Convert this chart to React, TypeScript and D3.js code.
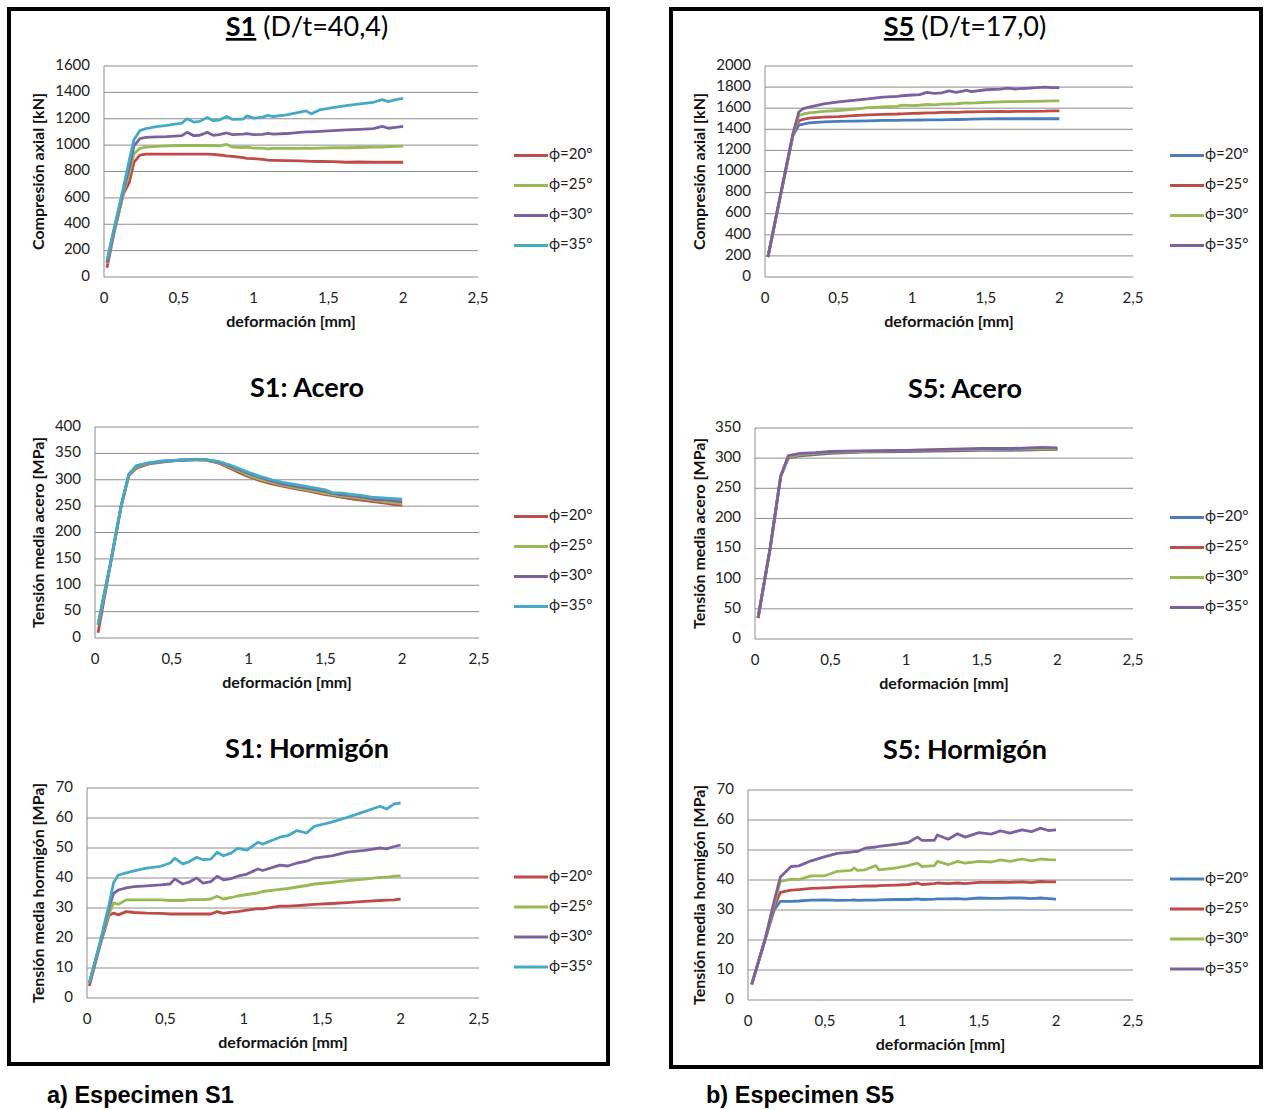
import React from 'react';
import * as d3 from 'd3';

// colores de Excel
const RED = '#BE4B48';
const GREEN = '#98B954';
const PURPLE = '#7D60A0';
const CYAN = '#46AAC5';
const BLUE = '#4A7EBB';

const X_TICKS = [0, 0.5, 1, 1.5, 2, 2.5];
const LEGEND_S = ['ϕ=20°', 'ϕ=25°', 'ϕ=30°', 'ϕ=35°'];

// S1 - compresion axial [kN]
const S1_COMP_X = [0.02, 0.07, 0.13, 0.17, 0.2, 0.24, 0.28, 0.35, 0.42, 0.52, 0.555, 0.6, 0.64, 0.69, 0.73, 0.77, 0.82, 0.86, 0.93, 0.955, 1.0, 1.06, 1.095, 1.13, 1.22, 1.31, 1.35, 1.385, 1.44, 1.53, 1.62, 1.71, 1.8, 1.86, 1.9, 1.95, 2.0];
const S1_COMP_20 = [70, 350, 630, 720, 870, 925, 932, 932, 932, 932, 932, 932, 932, 932, 930, 925, 918, 915, 905, 900, 898, 892, 886, 885, 882, 880, 878, 877, 876, 875, 870, 872, 870, 870, 870, 870, 870];
const S1_COMP_25 = [100, 360, 640, 790, 935, 975, 985, 990, 995, 997, 997, 997, 997, 997, 997, 995, 1005, 985, 982, 985, 978, 978, 972, 975, 975, 975, 978, 975, 978, 980, 980, 982, 985, 985, 988, 990, 992];
const S1_COMP_30 = [110, 370, 660, 835, 995, 1050, 1058, 1062, 1065, 1072, 1097, 1072, 1075, 1097, 1075, 1080, 1092, 1080, 1083, 1088, 1080, 1082, 1090, 1083, 1088, 1097, 1100, 1100, 1105, 1110, 1115, 1120, 1125, 1142, 1128, 1135, 1142];
const S1_COMP_35 = [130, 380, 680, 890, 1040, 1110, 1125, 1140, 1150, 1167, 1200, 1175, 1180, 1210, 1185, 1190, 1217, 1195, 1198, 1222, 1205, 1212, 1225, 1217, 1230, 1250, 1260, 1237, 1267, 1285, 1300, 1312, 1325, 1345, 1330, 1345, 1355];

// S5 - compresion axial [kN]
const S5_COMP_X = [0.02, 0.1, 0.19, 0.23, 0.26, 0.3, 0.4, 0.5, 0.6, 0.7, 0.8, 0.9, 0.93, 1.0, 1.05, 1.1, 1.15, 1.2, 1.25, 1.3, 1.37, 1.4, 1.5, 1.6, 1.65, 1.7, 1.8, 1.9, 1.95, 2.0];
const S5_COMP_20 = [190, 740, 1340, 1440, 1450, 1460, 1470, 1475, 1478, 1480, 1485, 1485, 1487, 1487, 1488, 1490, 1490, 1490, 1492, 1493, 1495, 1497, 1498, 1500, 1500, 1500, 1500, 1500, 1500, 1500];
const S5_COMP_25 = [190, 740, 1350, 1480, 1495, 1505, 1515, 1520, 1530, 1537, 1542, 1545, 1547, 1550, 1552, 1555, 1555, 1560, 1562, 1560, 1565, 1565, 1567, 1570, 1568, 1570, 1570, 1572, 1575, 1575];
const S5_COMP_30 = [190, 740, 1350, 1530, 1545, 1555, 1570, 1578, 1590, 1605, 1612, 1618, 1630, 1625, 1628, 1635, 1632, 1638, 1640, 1642, 1650, 1648, 1655, 1660, 1662, 1662, 1665, 1668, 1670, 1670];
const S5_COMP_35 = [190, 740, 1360, 1565, 1595, 1610, 1640, 1660, 1675, 1688, 1705, 1712, 1718, 1725, 1728, 1750, 1740, 1745, 1765, 1750, 1770, 1758, 1775, 1780, 1790, 1782, 1790, 1800, 1795, 1795];

// S1 - acero [MPa]
const S1_ACE_X = [0.02, 0.1, 0.17, 0.22, 0.27, 0.35, 0.45, 0.55, 0.65, 0.72, 0.8, 0.88, 0.95, 1.0, 1.08, 1.15, 1.22, 1.3, 1.4, 1.5, 1.55, 1.6, 1.67, 1.72, 1.8, 1.85, 1.9, 1.95, 2.0];
const S1_ACE_20 = [10, 140, 250, 308, 322, 330, 334, 337, 338, 337, 332, 322, 312, 306, 298, 292, 288, 283, 278, 272, 270, 267, 264, 262, 259, 257, 255, 253, 252];
const S1_ACE_25 = [25, 140, 250, 308, 324, 331, 335, 337, 338, 337, 333, 324, 315, 308, 300, 295, 290, 285, 280, 274, 272, 269, 267, 265, 262, 260, 258, 256, 255];
const S1_ACE_30 = [25, 140, 250, 310, 326, 332, 335, 337, 338, 338, 334, 326, 318, 312, 304, 298, 292, 288, 283, 278, 274, 272, 270, 268, 264, 262, 262, 260, 258];
const S1_ACE_35 = [25, 140, 250, 310, 327, 332, 336, 337, 338, 338, 335, 328, 320, 314, 306, 300, 295, 291, 286, 281, 275, 275, 272, 271, 267, 266, 265, 264, 263];

// S5 - acero [MPa]
const S5_ACE_X = [0.02, 0.1, 0.17, 0.22, 0.3, 0.4, 0.5, 0.7, 1.0, 1.3, 1.5, 1.7, 1.9, 2.0];
const S5_ACE_20 = [35, 150, 270, 300, 304, 306, 308, 310, 311, 312, 313, 313, 314, 314];
const S5_ACE_25 = [35, 150, 270, 301, 305, 307, 309, 311, 312, 313, 314, 315, 315, 315];
const S5_ACE_30 = [35, 150, 270, 302, 306, 308, 310, 311, 313, 314, 314, 315, 316, 315];
const S5_ACE_35 = [35, 150, 270, 304, 308, 309, 311, 312, 313, 315, 316, 316, 318, 317];

// S1 - hormigon [MPa]
const S1_HOR_X = [0.015, 0.08, 0.14, 0.17, 0.2, 0.25, 0.3, 0.38, 0.47, 0.53, 0.56, 0.61, 0.65, 0.7, 0.74, 0.79, 0.83, 0.87, 0.92, 0.96, 1.02, 1.09, 1.12, 1.23, 1.28, 1.34, 1.4, 1.45, 1.56, 1.66, 1.77, 1.87, 1.91, 1.96, 2.0];
const S1_HOR_20 = [4, 17, 27.5, 28.3, 27.7, 28.8, 28.5, 28.3, 28.2, 28.0, 28.0, 28.0, 28.0, 28.0, 28.0, 28.0, 28.8, 28.2, 28.6, 28.8, 29.3, 29.8, 29.7, 30.6, 30.6, 30.8, 31.0, 31.2, 31.5, 31.8, 32.2, 32.5, 32.6, 32.7, 33.0];
const S1_HOR_25 = [5, 17.5, 28, 31.7, 31.2, 32.7, 32.7, 32.7, 32.7, 32.5, 32.5, 32.5, 32.8, 32.8, 32.8, 33.0, 33.9, 33.0, 33.5, 34.0, 34.5, 35.0, 35.5, 36.2, 36.5, 37.0, 37.5, 38.0, 38.5, 39.1, 39.6, 40.2, 40.2, 40.6, 40.7];
const S1_HOR_30 = [5, 17.5, 30, 34.9, 36, 36.7, 37.1, 37.4, 37.7, 38.0, 39.7, 38.0, 38.6, 40.0, 38.3, 38.8, 40.6, 39.4, 39.8, 40.6, 41.3, 43.0, 42.5, 44.3, 44.0, 45.0, 45.6, 46.6, 47.4, 48.6, 49.2, 50.0, 49.7, 50.5, 51.0];
const S1_HOR_35 = [5, 18, 31, 38.5, 41, 41.7, 42.4, 43.3, 43.9, 45.0, 46.6, 44.7, 45.4, 46.9, 46.1, 46.3, 48.6, 47.4, 48.3, 49.9, 49.3, 51.9, 51.3, 53.6, 54.1, 55.8, 55.0, 57.2, 58.6, 60.2, 62.1, 63.9, 63.0, 64.7, 65.0];

// S5 - hormigon [MPa]
const S5_HOR_X = [0.024, 0.11, 0.17, 0.21, 0.28, 0.33, 0.41, 0.5, 0.58, 0.67, 0.69, 0.71, 0.76, 0.83, 0.85, 0.96, 1.04, 1.1, 1.13, 1.21, 1.23, 1.3, 1.36, 1.41, 1.5, 1.58, 1.64, 1.7, 1.78, 1.84, 1.9, 1.95, 2.0];
const S5_HOR_20 = [5.2, 20, 30, 32.9, 32.9, 33.0, 33.3, 33.4, 33.2, 33.3, 33.4, 33.2, 33.3, 33.3, 33.4, 33.5, 33.5, 33.7, 33.5, 33.6, 33.7, 33.7, 33.8, 33.6, 34.0, 33.9, 33.9, 34.0, 34.0, 33.8, 34.0, 33.8, 33.6];
const S5_HOR_25 = [5.2, 20, 31, 35.9, 36.6, 36.8, 37.2, 37.4, 37.6, 37.8, 37.8, 37.9, 38.0, 38.0, 38.1, 38.3, 38.5, 39.0, 38.5, 38.8, 39.0, 38.8, 39.0, 38.8, 39.2, 39.2, 39.3, 39.2, 39.4, 39.1, 39.5, 39.4, 39.4];
const S5_HOR_30 = [5.2, 20, 32, 39.5, 40.3, 40.1, 41.4, 41.4, 42.9, 43.2, 44.0, 43.2, 43.4, 44.8, 43.4, 44.0, 44.8, 45.6, 44.5, 44.8, 46.2, 45.1, 46.2, 45.6, 46.2, 46.0, 46.7, 46.2, 47.0, 46.4, 47.0, 46.8, 46.7];
const S5_HOR_35 = [5.2, 20, 33, 41, 44.5, 44.7, 46.4, 47.8, 48.9, 49.3, 49.5, 49.5, 50.6, 51.0, 51.2, 51.9, 52.5, 54.3, 53.2, 53.2, 55.0, 53.6, 55.4, 54.3, 55.8, 55.3, 56.4, 55.6, 56.7, 56.1, 57.3, 56.5, 56.7];

const FONT = 'Lato, "Open Sans", sans-serif';

const mkSeries = (xs, ys, colors) =>
  ys.map((y, i) => ({ name: LEGEND_S[i], color: colors[i], pts: xs.map((x, j) => [x, y[j]]) }));

const Chart = ({ left, right, top, bottom, yMax, yStep, series, ylabel, ylabelX, title, titleY, cx, legendX }) => {
  const x = d3.scaleLinear().domain([0, 2.5]).range([left, right]);
  const y = d3.scaleLinear().domain([0, yMax]).range([bottom, top]);
  const yTicks = d3.range(0, yMax + yStep / 2, yStep);
  const line = d3.line().x((d) => x(d[0])).y((d) => y(d[1]));
  const midY = (top + bottom) / 2;
  return (
    <g fontFamily={FONT}>
      <text x={cx} y={titleY} textAnchor="middle" dominantBaseline="middle" fontSize={27} fill="#000">
        {title}
      </text>
      {yTicks.map((t) => (
        <g key={t}>
          <line x1={left} x2={right} y1={y(t)} y2={y(t)} stroke="#8c8c8c" strokeWidth={1} />
          <text x={left - 14} y={y(t)} textAnchor="end" dominantBaseline="middle" fontSize={15} fill="#222">
            {t}
          </text>
        </g>
      ))}
      <line x1={left} x2={left} y1={top} y2={bottom} stroke="#8c8c8c" strokeWidth={1} />
      {X_TICKS.map((t) => (
        <text key={t} x={x(t)} y={bottom + 22} textAnchor="middle" dominantBaseline="middle" fontSize={15} fill="#222">
          {String(t).replace('.', ',')}
        </text>
      ))}
      <text x={(left + right) / 2} y={bottom + 46} textAnchor="middle" dominantBaseline="middle" fontSize={16} fontWeight="bold" fill="#111">
        deformación [mm]
      </text>
      <text transform={`translate(${ylabelX},${midY}) rotate(-90)`} textAnchor="middle" dominantBaseline="middle" fontSize={16} fontWeight="bold" fill="#111">
        {ylabel}
      </text>
      {series.map((s) => (
        <path key={s.name} d={line(s.pts)} fill="none" stroke={s.color} strokeWidth={2.8} strokeLinejoin="round" />
      ))}
      {series.map((s, i) => {
        const ly = midY - 16 + 30 * i;
        return (
          <g key={s.name}>
            <line x1={legendX} x2={legendX + 34} y1={ly} y2={ly} stroke={s.color} strokeWidth={3} />
            <text x={legendX + 35} y={ly} dominantBaseline="middle" fontSize={15} fill="#222">
              {s.name}
            </text>
          </g>
        );
      })}
    </g>
  );
};

const App = () => {
  const s1c = mkSeries(S1_COMP_X, [S1_COMP_20, S1_COMP_25, S1_COMP_30, S1_COMP_35], [RED, GREEN, PURPLE, CYAN]);
  const s5c = mkSeries(S5_COMP_X, [S5_COMP_20, S5_COMP_25, S5_COMP_30, S5_COMP_35], [BLUE, RED, GREEN, PURPLE]);
  const s1a = mkSeries(S1_ACE_X, [S1_ACE_20, S1_ACE_25, S1_ACE_30, S1_ACE_35], [RED, GREEN, PURPLE, CYAN]);
  const s5a = mkSeries(S5_ACE_X, [S5_ACE_20, S5_ACE_25, S5_ACE_30, S5_ACE_35], [BLUE, RED, GREEN, PURPLE]);
  const s1h = mkSeries(S1_HOR_X, [S1_HOR_20, S1_HOR_25, S1_HOR_30, S1_HOR_35], [RED, GREEN, PURPLE, CYAN]);
  const s5h = mkSeries(S5_HOR_X, [S5_HOR_20, S5_HOR_25, S5_HOR_30, S5_HOR_35], [BLUE, RED, GREEN, PURPLE]);

  return (
    <svg width={1264} height={1110} style={{ position: 'absolute', left: 0, top: 0, background: '#fff' }}>
      <rect x={0} y={0} width={1264} height={1110} fill="#fff" />
      <rect x={9} y={9} width={599} height={1055} fill="none" stroke="#000" strokeWidth={4} />
      <rect x={671} y={9} width={590} height={1058} fill="none" stroke="#000" strokeWidth={4} />

      <Chart left={104} right={478} top={66} bottom={277} yMax={1600} yStep={200} series={s1c}
        ylabel="Compresión axial [kN]" ylabelX={40} cx={307} titleY={29} legendX={514}
        title={[<tspan key="a" fontWeight="bold" textDecoration="underline">S1</tspan>, <tspan key="b"> (D/t=40,4)</tspan>]} />
      <Chart left={765} right={1133} top={66} bottom={277} yMax={2000} yStep={200} series={s5c}
        ylabel="Compresión axial [kN]" ylabelX={701} cx={965} titleY={29} legendX={1170}
        title={[<tspan key="a" fontWeight="bold" textDecoration="underline">S5</tspan>, <tspan key="b"> (D/t=17,0)</tspan>]} />

      <Chart left={95} right={479} top={427} bottom={638} yMax={400} yStep={50} series={s1a}
        ylabel="Tensión media acero [MPa]" ylabelX={40} cx={307} titleY={390} legendX={514}
        title={<tspan fontWeight="bold">S1: Acero</tspan>} />
      <Chart left={755} right={1133} top={428} bottom={639} yMax={350} yStep={50} series={s5a}
        ylabel="Tensión media acero [MPa]" ylabelX={701} cx={965} titleY={391} legendX={1170}
        title={<tspan fontWeight="bold">S5: Acero</tspan>} />

      <Chart left={87} right={479} top={788} bottom={998} yMax={70} yStep={10} series={s1h}
        ylabel="Tensión media hormigón [MPa]" ylabelX={40} cx={307} titleY={751} legendX={514}
        title={<tspan fontWeight="bold">S1: Hormigón</tspan>} />
      <Chart left={748} right={1133} top={790} bottom={1000} yMax={70} yStep={10} series={s5h}
        ylabel="Tensión media hormigón [MPa]" ylabelX={701} cx={965} titleY={752} legendX={1170}
        title={<tspan fontWeight="bold">S5: Hormigón</tspan>} />

      <text x={47} y={1103} fontFamily='"Liberation Sans", Arial, sans-serif' fontWeight="bold" fontSize={23.5} fill="#000">a) Especimen S1</text>
      <text x={706} y={1103} fontFamily='"Liberation Sans", Arial, sans-serif' fontWeight="bold" fontSize={23.5} fill="#000">b) Especimen S5</text>
    </svg>
  );
};

export default App;
